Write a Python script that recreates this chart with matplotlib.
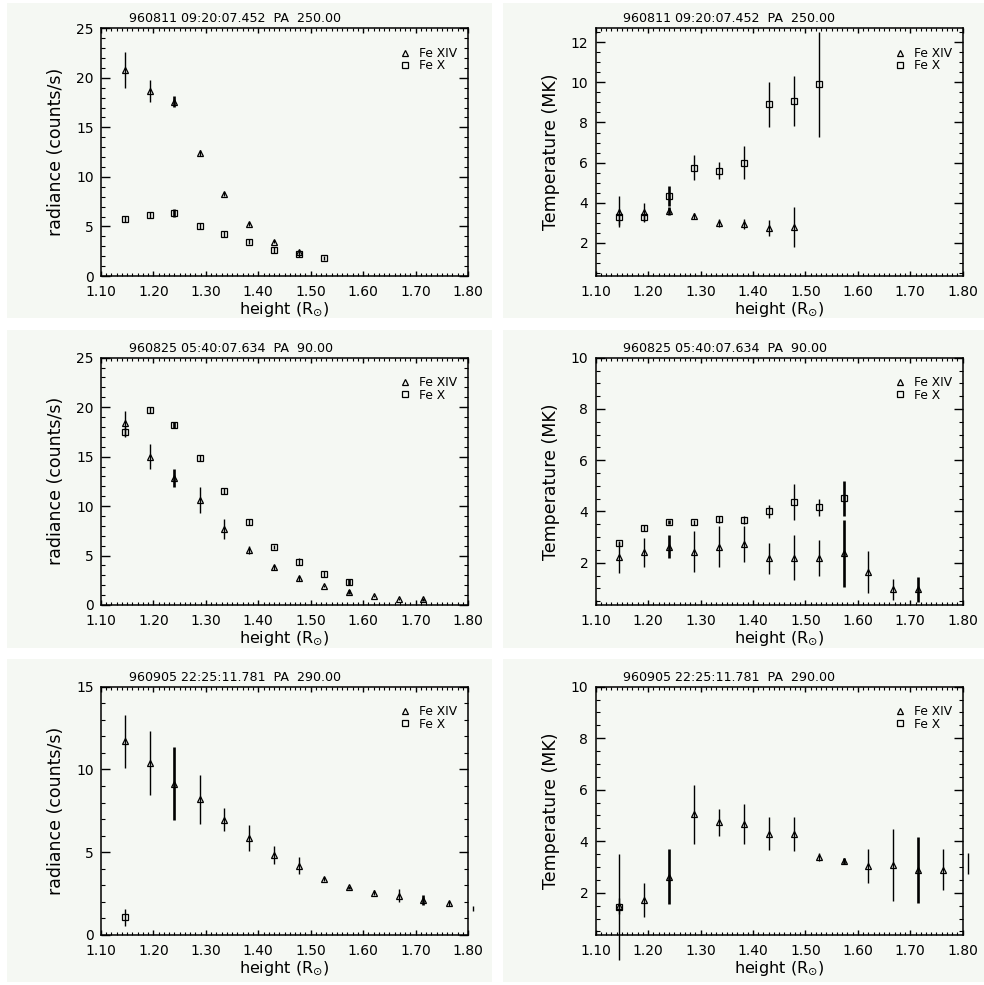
import numpy as np
import matplotlib
matplotlib.use("Agg")
import matplotlib.pyplot as plt
from matplotlib.ticker import MultipleLocator, FormatStrFormatter
from matplotlib.patches import Rectangle

# ---------------- data ----------------
heights = [1.145, 1.193, 1.240, 1.288, 1.335, 1.383, 1.430, 1.478,
           1.525, 1.573, 1.620, 1.668, 1.715, 1.763, 1.810]

titles = ["960811 09:20:07.452  PA  250.00",
          "960825 05:40:07.634  PA  90.00",
          "960905 22:25:11.781  PA  290.00"]

# Row 1 (960811)
rad1_fe14 = [20.8, 18.7, 17.6, 12.45, 8.28, 5.25, 3.47, 2.46]
rad1_fe14_err = [1.85, 1.1, 0.55, 0.3, 0.2, 0.2, 0.15, 0.2]
rad1_fe10 = [5.72, 6.16, 6.33, 5.08, 4.2, 3.47, 2.62, 2.19, 1.85]
rad1_fe10_err = [0.3, 0.3, 0.4, 0.3, 0.3, 0.25, 0.3, 0.3, 0.2]
tem1_fe14 = [3.55, 3.51, 3.6, 3.35, 2.97, 2.92, 2.72, 2.8]
tem1_fe14_err = [0.78, 0.47, 0.2, 0.15, 0.2, 0.25, 0.4, 1.0]
tem1_fe10 = [3.26, 3.3, 4.33, 5.74, 5.59, 5.99, 8.9, 9.07, 9.9]
tem1_fe10_err = [0.4, 0.2, 0.5, 0.62, 0.43, 0.83, 1.14, 1.24, 2.6]

# Row 2 (960825)
rad2_fe14 = [18.36, 15.0, 12.8, 10.6, 7.65, 5.56, 3.8, 2.7, 1.92, 1.35, 0.94, 0.64, 0.6]
rad2_fe14_err = [1.3, 1.3, 0.9, 1.3, 1.0, 0.4, 0.25, 0.25, 0.15, 0.2, 0.1, 0.1, 0.15]
rad2_fe10 = [17.5, 19.7, 18.2, 14.9, 11.5, 8.36, 5.9, 4.38, 3.13, 2.36]
rad2_fe10_err = [0.5, 0.3, 0.3, 0.3, 0.3, 0.3, 0.2, 0.35, 0.3, 0.3]
tem2_fe14 = [2.21, 2.4, 2.63, 2.43, 2.63, 2.73, 2.17, 2.2, 2.2, 2.36, 1.62, 0.96, 0.96]
tem2_fe14_err = [0.6, 0.57, 0.45, 0.8, 0.8, 0.7, 0.6, 0.88, 0.7, 1.3, 0.82, 0.42, 0.5]
tem2_fe10 = [2.76, 3.37, 3.59, 3.58, 3.69, 3.67, 4.0, 4.38, 4.16, 4.51]
tem2_fe10_err = [0.1, 0.12, 0.08, 0.1, 0.15, 0.15, 0.27, 0.7, 0.33, 0.67]

# Row 3 (960905)
rad3_fe14 = [11.7, 10.38, 9.13, 8.19, 6.96, 5.85, 4.82, 4.19, 3.39, 2.88,
             2.54, 2.38, 2.12, 1.92, 1.6]
rad3_fe14_err = [1.6, 1.95, 2.2, 1.5, 0.7, 0.78, 0.55, 0.5, 0.1, 0.1,
                 0.15, 0.4, 0.3, 0.15, 0.15]
rad3_fe10 = [1.07]
rad3_fe10_err = [0.52]
tem3_fe14 = [1.48, 1.72, 2.62, 5.05, 4.74, 4.67, 4.3, 4.3, 3.4, 3.24,
             3.04, 3.07, 2.88, 2.9, 3.13]
tem3_fe14_err = [0.3, 0.66, 1.07, 1.15, 0.53, 0.78, 0.65, 0.66, 0.15, 0.12,
                 0.65, 1.4, 1.28, 0.78, 0.41]
tem3_fe10 = [1.45]
tem3_fe10_err = [2.07]

series_labels = ["Fe XIV", "Fe X"]
ylabels = ["radiance (counts/s)", "Temperature (MK)"]
xlabel = r"height (R$_{\odot}$)"

# ---------------- style ----------------
BG = "#f5f8f3"
thick_idx = {2, 9, 12}

fig = plt.figure(figsize=(9.84, 9.85), dpi=100)
fig.patch.set_facecolor("white")
W, H = 984.0, 985.0

# tile backgrounds (pixel boxes: x0, y0_top, x1, y1_bottom)
tiles = [(7, 3, 492, 318), (503, 3, 984, 318),
         (7, 330, 492, 648), (503, 330, 984, 648),
         (7, 659, 492, 982), (503, 659, 984, 982)]
for (x0, y0, x1, y1) in tiles:
    fig.patches.append(Rectangle((x0 / W, 1 - y1 / H), (x1 - x0) / W, (y1 - y0) / H,
                                 transform=fig.transFigure, facecolor=BG,
                                 edgecolor="none", zorder=-10))

rows_px = [(28.3, 276.0), (357.7, 605.0), (686.7, 935.0)]
cols_px = [(101.0, 468.0), (595.7, 962.7)]

panels = [
    (0, 0, [(rad1_fe14, rad1_fe14_err), (rad1_fe10, rad1_fe10_err)], (0, 25), 5, 1),
    (0, 1, [(tem1_fe14, tem1_fe14_err), (tem1_fe10, tem1_fe10_err)], (0.34, 12.7), 2, 0.5),
    (1, 0, [(rad2_fe14, rad2_fe14_err), (rad2_fe10, rad2_fe10_err)], (0, 25), 5, 1),
    (1, 1, [(tem2_fe14, tem2_fe14_err), (tem2_fe10, tem2_fe10_err)], (0.35, 10.0), 2, 0.5),
    (2, 0, [(rad3_fe14, rad3_fe14_err), (rad3_fe10, rad3_fe10_err)], (0, 15), 5, 1),
    (2, 1, [(tem3_fe14, tem3_fe14_err), (tem3_fe10, tem3_fe10_err)], (0.36, 10.0), 2, 0.5),
]
markers = ["^", "s"]
msizes = [4.6, 4.4]

for (r, c, series, ylim, major, minor) in panels:
    top, bot = rows_px[r]
    left, right = cols_px[c]
    ax = fig.add_axes([left / W, 1 - bot / H, (right - left) / W, (bot - top) / H])
    ax.set_zorder(1)
    ax.set_facecolor(BG)
    for (vals, errs), mk, ms, lab in zip(series, markers, msizes, series_labels):
        n = len(vals)
        xs = np.array(heights[:n])
        v = np.array(vals)
        e = np.array(errs)
        lws = [1.9 if i in thick_idx else 1.0 for i in range(n)]
        ax.vlines(xs, v - e, v + e, colors="black", linewidths=lws, clip_on=False, zorder=2)
        ax.plot(xs, v, linestyle="none", marker=mk, markersize=ms,
                markerfacecolor="none", markeredgecolor="black",
                markeredgewidth=0.9, label=lab, zorder=3)
    ax.set_xlim(1.10, 1.80)
    ax.set_ylim(*ylim)
    ax.xaxis.set_major_locator(MultipleLocator(0.1))
    ax.xaxis.set_minor_locator(MultipleLocator(0.01))
    ax.xaxis.set_major_formatter(FormatStrFormatter("%.2f"))
    ax.yaxis.set_major_locator(MultipleLocator(major))
    ax.yaxis.set_minor_locator(MultipleLocator(minor))
    ax.yaxis.set_major_formatter(FormatStrFormatter("%d"))
    ax.tick_params(axis="both", which="both", direction="in", top=True, right=True,
                   colors="black", labelsize=10)
    ax.tick_params(axis="x", which="major", length=3.5, width=1.0, pad=6.5)
    ax.tick_params(axis="x", which="minor", length=2.0, width=0.8)
    ax.tick_params(axis="y", which="major", length=6.5, width=1.0, pad=5.3)
    ax.tick_params(axis="y", which="minor", length=3.2, width=0.8)
    for sp in ax.spines.values():
        sp.set_linewidth(1.1)
    ax.set_xlabel(xlabel, fontsize=11.5)
    ax.xaxis.set_label_coords(0.5, -0.1)
    ax.set_ylabel(ylabels[c], fontsize=12.5)
    ax.yaxis.set_label_coords(-0.098, 0.5)
    ax.text(0.075, 1.012, titles[r], transform=ax.transAxes, fontsize=9.1,
            ha="left", va="bottom")
    ax.legend(loc="upper right", bbox_to_anchor=(0.97, 0.925), frameon=False,
              fontsize=8.8, handlelength=0.7, handletextpad=0.8, labelspacing=-0.05,
              borderaxespad=0, borderpad=0)

fig.savefig("out.png", dpi=100, facecolor="white")
